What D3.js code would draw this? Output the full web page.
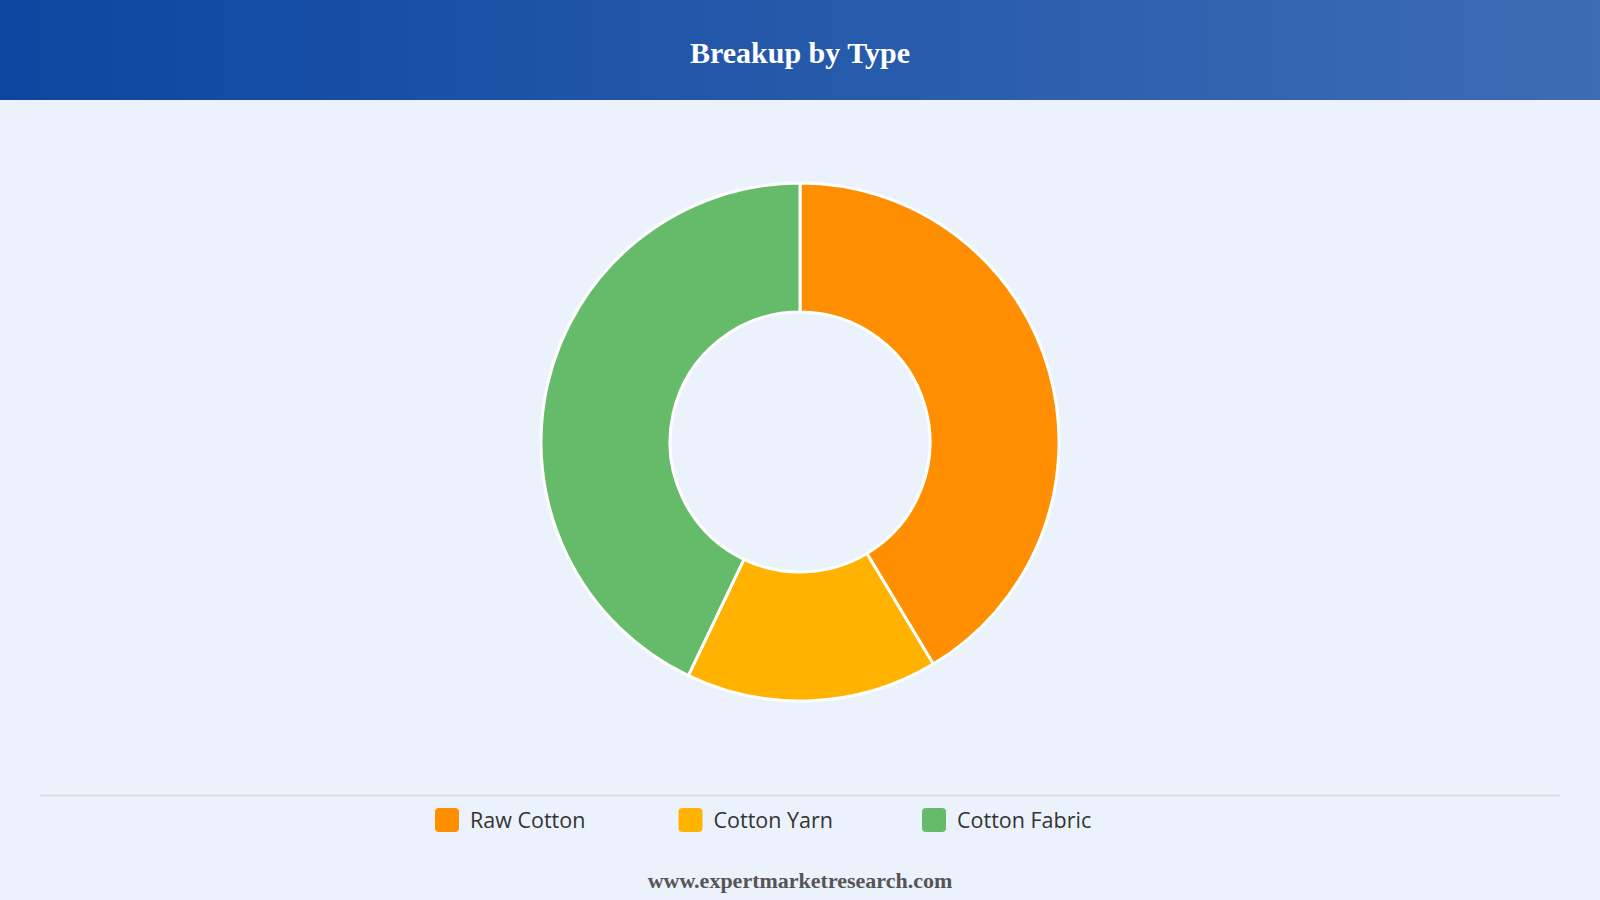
<!DOCTYPE html>
<html>
<head>
<meta charset="utf-8">
<script src="https://cdn.jsdelivr.net/npm/d3@7"></script>
<style>
  html, body { margin: 0; padding: 0; background: #ebf2fb; }
  svg { display: block; }
</style>
</head>
<body>
<svg id="chart"></svg>
<script>
const categories = ["Raw Cotton", "Cotton Yarn", "Cotton Fabric"];
const shares = [41.4, 15.7, 42.9];
const colors = ["#ff8f00", "#ffb300", "#66bb6a"];

const width = 1600;
const height = 900;

const svg = d3.select("#chart")
    .attr("width", width)
    .attr("height", height);

// header band
const defs = svg.append("defs");
const grad = defs.append("linearGradient")
    .attr("id", "hdr")
    .attr("x1", "0%").attr("x2", "100%")
    .attr("y1", "0%").attr("y2", "0%");
grad.append("stop").attr("offset", "0%").attr("stop-color", "#0d46a0");
grad.append("stop").attr("offset", "100%").attr("stop-color", "#3d6cb4");

svg.append("rect")
    .attr("width", width)
    .attr("height", height)
    .attr("fill", "#ebf2fb");

svg.append("rect")
    .attr("width", width)
    .attr("height", 100)
    .attr("fill", "url(#hdr)");

svg.append("text")
    .attr("x", width / 2)
    .attr("y", 63)
    .attr("text-anchor", "middle")
    .attr("fill", "#ffffff")
    .style("font-family", "'Liberation Serif', 'Times New Roman', serif")
    .style("font-weight", "bold")
    .style("font-size", "30px")
    .text("Breakup by Type");

// donut
const data = categories.map((c, i) => ({ name: c, value: shares[i], color: colors[i] }));

const cx = 800, cy = 442;
const outerR = 259, innerR = 130;

const pie = d3.pie()
    .value(d => d.value)
    .sort(null);

const arc = d3.arc()
    .innerRadius(innerR)
    .outerRadius(outerR);

const g = svg.append("g")
    .attr("transform", `translate(${cx},${cy})`);

g.selectAll("path")
    .data(pie(data))
    .enter().append("path")
    .attr("d", arc)
    .attr("fill", d => d.data.color)
    .attr("stroke", "#ffffff")
    .attr("stroke-width", 3)
    .attr("stroke-linejoin", "round");

// separator
svg.append("line")
    .attr("x1", 40).attr("x2", 1560)
    .attr("y1", 795.5).attr("y2", 795.5)
    .attr("stroke", "#d9dcdf")
    .attr("stroke-width", 2);

// legend
const legendX = d3.scalePoint()
    .domain(categories)
    .range([435, 922]);

const legend = svg.append("g")
    .selectAll("g")
    .data(data)
    .enter().append("g")
    .attr("transform", d => `translate(${legendX(d.name)},808)`);

legend.append("rect")
    .attr("width", 24)
    .attr("height", 24)
    .attr("rx", 4)
    .attr("fill", d => d.color);

legend.append("text")
    .attr("x", 35)
    .attr("y", 12)
    .attr("dy", "0.35em")
    .attr("fill", "#333333")
    .style("font-family", "'Open Sans', 'Noto Sans', sans-serif")
    .style("font-size", "21.5px")
    .style("font-weight", 500)
    .text(d => d.name);

// footer
svg.append("text")
    .attr("x", width / 2)
    .attr("y", 888)
    .attr("text-anchor", "middle")
    .attr("fill", "#555555")
    .style("font-family", "'Liberation Serif', 'Times New Roman', serif")
    .style("font-weight", "bold")
    .style("font-size", "22px")
    .text("www.expertmarketresearch.com");
</script>
</body>
</html>
